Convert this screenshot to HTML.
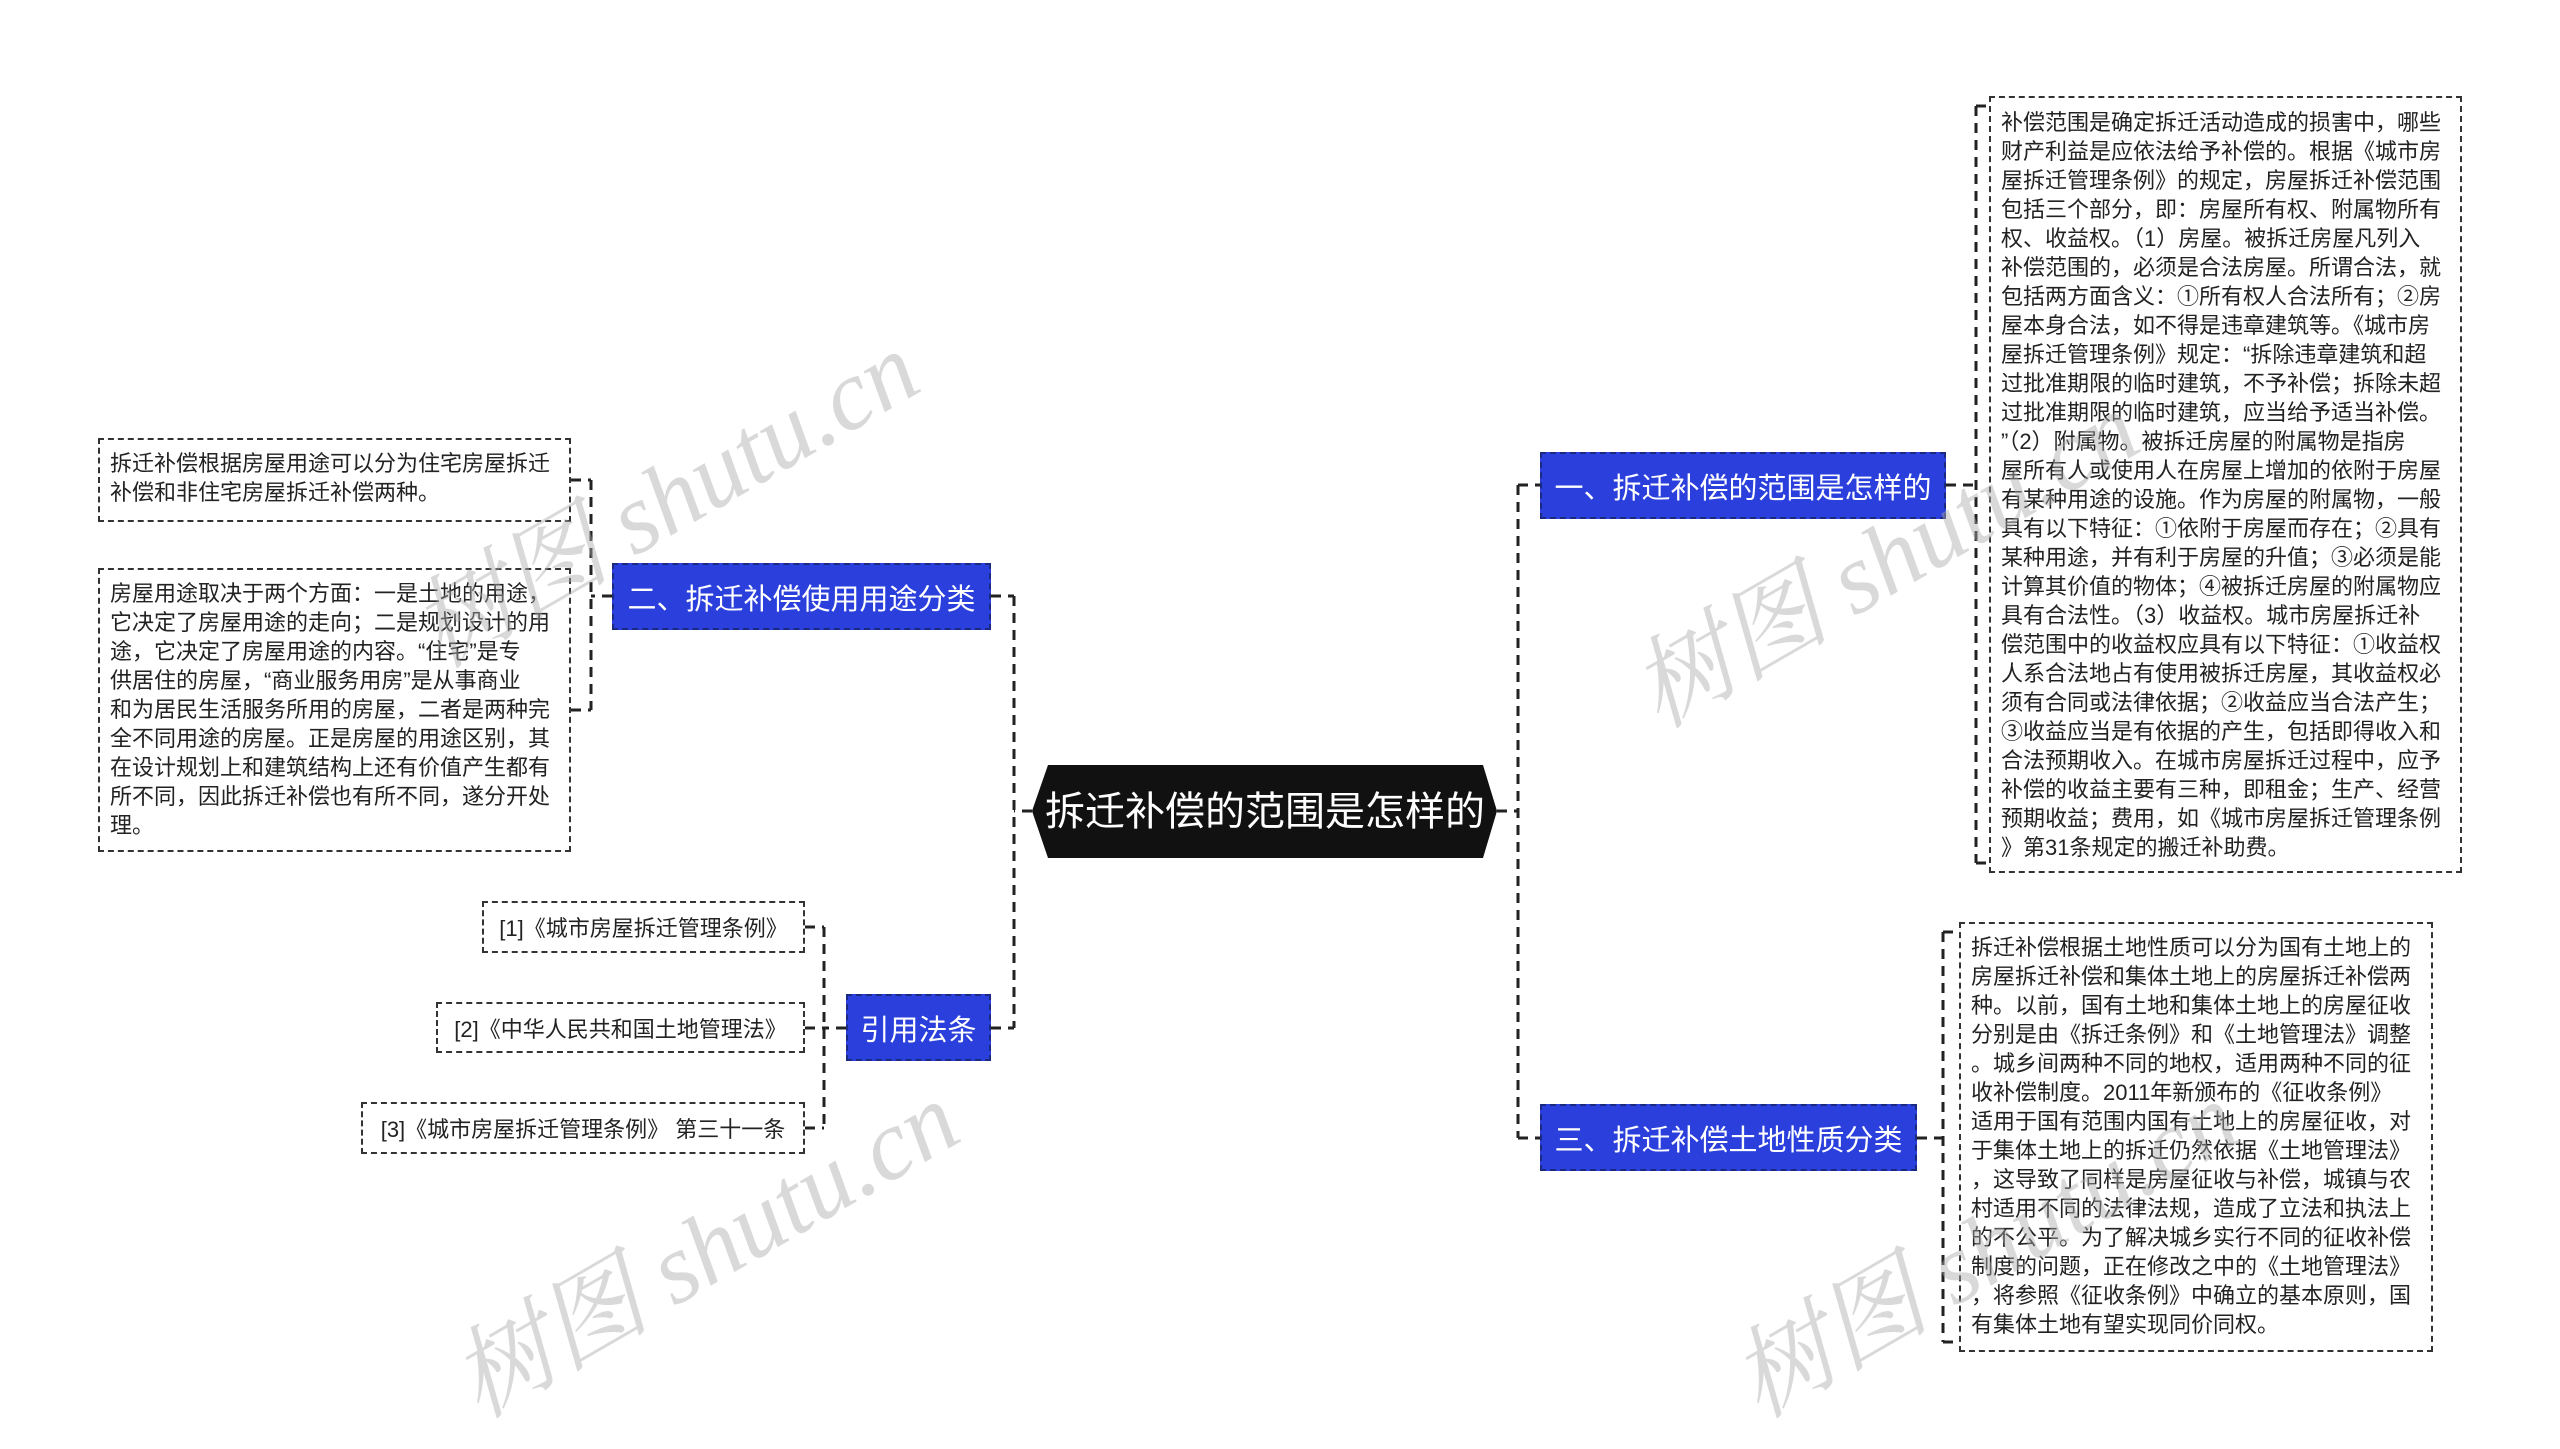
<!DOCTYPE html>
<html style="overflow:hidden;height:1449px"><head><meta charset="utf-8"><style>
body{margin:0;width:2560px;height:1449px;background:#fff;position:relative;overflow:hidden;font-family:"Liberation Sans","Noto Sans CJK SC",sans-serif}
.b{position:absolute;box-sizing:border-box;border:2.5px dashed #333;background:#fff;color:#222;font-size:22px;line-height:29px;white-space:pre;padding:9px 10px}
.n{position:absolute;box-sizing:border-box;border:2.5px dashed #1a2a80;background:#2a3fdc;color:#fff;font-size:29px;display:flex;align-items:center;justify-content:center;white-space:nowrap}
.r{position:absolute;box-sizing:border-box;border:2.5px dashed #333;background:#fff;color:#222;font-size:22px;display:flex;align-items:center;justify-content:center;white-space:nowrap}
.wrap{position:absolute;left:0;top:0;width:2560px;height:1449px;overflow:hidden;z-index:5;pointer-events:none}
.w{position:absolute;color:rgba(170,170,170,0.45);font-family:"Liberation Serif","Noto Serif CJK SC",serif;font-style:italic;font-size:100px;transform:rotate(-30deg);white-space:nowrap}
svg{position:absolute;left:0;top:0}
</style></head><body>
<svg width="2560" height="1449">
<g stroke="#222" stroke-width="3" stroke-dasharray="10,7" fill="none">
<path d="M1032 811H1014M1014 596V1028M991 596H1014M991 1028H1014"/>
<path d="M612 596H591M591 480V710M571 480H591M571 710H591"/>
<path d="M846 1028H824M824 927V1128M805 927H824M805 1028H824M805 1128H824"/>
<path d="M1497 811H1518M1518 485V1138M1518 485H1540M1518 1138H1540"/>
<path d="M1946 485H1976M1976 106V863M1976 106H1989M1976 863H1989"/>
<path d="M1917 1138H1943M1943 932V1342M1943 932H1959M1943 1342H1959"/>
</g>
<polygon points="1048,765 1483,765 1497,811 1483,858 1048,858 1032,811" fill="#111"/>
<text x="1265" y="825" fill="#fff" font-size="40" text-anchor="middle" font-family="Liberation Sans,Noto Sans CJK SC,sans-serif">拆迁补偿的范围是怎样的</text>
</svg>
<div class="n" style="left:1540px;top:452px;width:406px;height:67px">一、拆迁补偿的范围是怎样的</div>
<div class="n" style="left:612px;top:563px;width:379px;height:67px">二、拆迁补偿使用用途分类</div>
<div class="n" style="left:846px;top:994px;width:145px;height:67px">引用法条</div>
<div class="n" style="left:1540px;top:1104px;width:377px;height:67px">三、拆迁补偿土地性质分类</div>
<div class="b" style="left:98px;top:438px;width:473px;height:84px">拆迁补偿根据房屋用途可以分为住宅房屋拆迁
补偿和非住宅房屋拆迁补偿两种。</div>
<div class="b" style="left:98px;top:568px;width:473px;height:284px">房屋用途取决于两个方面：一是土地的用途，
它决定了房屋用途的走向；二是规划设计的用
途，它决定了房屋用途的内容。“住宅”是专
供居住的房屋，“商业服务用房”是从事商业
和为居民生活服务所用的房屋，二者是两种完
全不同用途的房屋。正是房屋的用途区别，其
在设计规划上和建筑结构上还有价值产生都有
所不同，因此拆迁补偿也有所不同，遂分开处
理。</div>
<div class="r" style="left:482px;top:901px;width:323px;height:52px">[1]《城市房屋拆迁管理条例》</div>
<div class="r" style="left:436px;top:1002px;width:369px;height:51px">[2]《中华人民共和国土地管理法》</div>
<div class="r" style="left:361px;top:1102px;width:444px;height:52px">[3]《城市房屋拆迁管理条例》 第三十一条</div>
<div class="b" style="left:1989px;top:96px;width:473px;height:777px;padding-top:10px">补偿范围是确定拆迁活动造成的损害中，哪些
财产利益是应依法给予补偿的。根据《城市房
屋拆迁管理条例》的规定，房屋拆迁补偿范围
包括三个部分，即：房屋所有权、附属物所有
权、收益权。（1）房屋。被拆迁房屋凡列入
补偿范围的，必须是合法房屋。所谓合法，就
包括两方面含义：①所有权人合法所有；②房
屋本身合法，如不得是违章建筑等。《城市房
屋拆迁管理条例》规定：“拆除违章建筑和超
过批准期限的临时建筑，不予补偿；拆除未超
过批准期限的临时建筑，应当给予适当补偿。
”（2）附属物。被拆迁房屋的附属物是指房
屋所有人或使用人在房屋上增加的依附于房屋
有某种用途的设施。作为房屋的附属物，一般
具有以下特征：①依附于房屋而存在；②具有
某种用途，并有利于房屋的升值；③必须是能
计算其价值的物体；④被拆迁房屋的附属物应
具有合法性。（3）收益权。城市房屋拆迁补
偿范围中的收益权应具有以下特征：①收益权
人系合法地占有使用被拆迁房屋，其收益权必
须有合同或法律依据；②收益应当合法产生；
③收益应当是有依据的产生，包括即得收入和
合法预期收入。在城市房屋拆迁过程中，应予
补偿的收益主要有三种，即租金；生产、经营
预期收益；费用，如《城市房屋拆迁管理条例
》第31条规定的搬迁补助费。</div>
<div class="b" style="left:1959px;top:922px;width:474px;height:430px">拆迁补偿根据土地性质可以分为国有土地上的
房屋拆迁补偿和集体土地上的房屋拆迁补偿两
种。以前，国有土地和集体土地上的房屋征收
分别是由《拆迁条例》和《土地管理法》调整
。城乡间两种不同的地权，适用两种不同的征
收补偿制度。2011年新颁布的《征收条例》
适用于国有范围内国有土地上的房屋征收，对
于集体土地上的拆迁仍然依据《土地管理法》
，这导致了同样是房屋征收与补偿，城镇与农
村适用不同的法律法规，造成了立法和执法上
的不公平。为了解决城乡实行不同的征收补偿
制度的问题，正在修改之中的《土地管理法》
，将参照《征收条例》中确立的基本原则，国
有集体土地有望实现同价同权。</div>
<div class="wrap">
<div class="w" style="left:380px;top:420px">树图 shutu.cn</div>
<div class="w" style="left:1600px;top:480px">树图 shutu.cn</div>
<div class="w" style="left:420px;top:1170px">树图 shutu.cn</div>
<div class="w" style="left:1700px;top:1170px">树图 shutu.cn</div>
</div>
</body></html>
